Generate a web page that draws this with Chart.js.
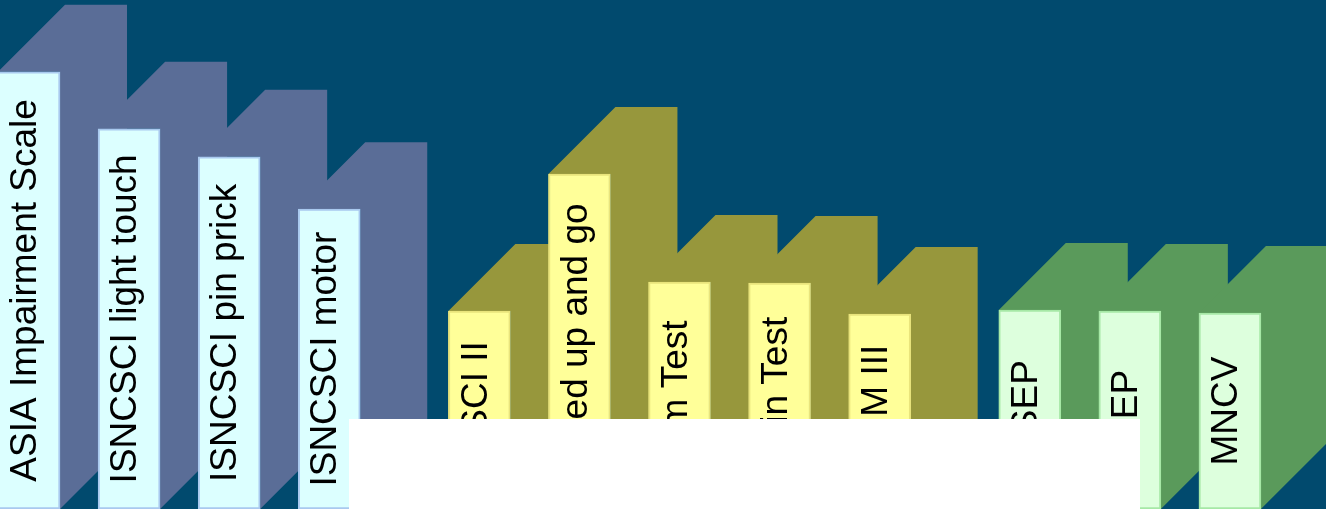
<!DOCTYPE html>
<html>
<head>
<meta charset="utf-8">
<script src="https://cdn.jsdelivr.net/npm/chart.js@4"></script>
<style>
  html, body { margin: 0; padding: 0; background: #014a6e; overflow: hidden; }
  #wrap { position: relative; width: 1326px; height: 509px; }
  #cover { position: absolute; left: 349px; top: 419px; width: 791px; height: 90px; background: #ffffff; }
</style>
</head>
<body>
<div id="wrap">
  <canvas id="chart"></canvas>
  <div id="cover"></div>
</div>
<script>
// labels, read bottom-to-top inside each bar
const labels = [
  'ASIA Impairment Scale', 'ISNCSCI light touch', 'ISNCSCI pin prick', 'ISNCSCI motor',
  'WISCI II', 'Timed up and go', '10m Test', '6min Test', 'SCIM III',
  'SSEP', 'MEP', 'MNCV'
];
// slot of each bar along x (groups separated by half a slot)
const slots = [0, 1, 2, 3, 4.5, 5.5, 6.5, 7.5, 8.5, 10, 11, 12];
// bar heights (% of plot height)
const values = [85.9, 74.7, 69.2, 58.9, 38.9, 65.8, 44.6, 44.4, 38.3, 39.1, 38.9, 38.5];
// group of each bar: 0 clinical exam, 1 function, 2 electrophysiology
const groups = [0, 0, 0, 0, 1, 1, 1, 1, 1, 2, 2, 2];

const frontColors = ['#dcffff', '#ffff99', '#ddffdd'];
const edgeColors = ['#a9c9ef', '#e9e47c', '#a6e8a6'];
const sideColors = ['#5a6d97', '#97973c', '#5a9a5b'];
const DEPTH = 67;

// draws the 3d side + top of every bar before the fronts, labels after
const extrude = {
  id: 'extrude',
  beforeDatasetsDraw(chart) {
    const ctx = chart.ctx;
    const meta = chart.getDatasetMeta(0);
    meta.data.forEach((bar, i) => {
      const p = bar.getProps(['x', 'y', 'base', 'width'], true);
      const l = p.x - p.width / 2, r = p.x + p.width / 2;
      ctx.save();
      ctx.fillStyle = sideColors[groups[i]];
      ctx.beginPath();
      ctx.moveTo(l, p.y);
      ctx.lineTo(l + DEPTH, p.y - DEPTH);
      ctx.lineTo(r + DEPTH, p.y - DEPTH);
      ctx.lineTo(r + DEPTH, p.base - DEPTH);
      ctx.lineTo(r, p.base);
      ctx.lineTo(r, p.y);
      ctx.closePath();
      ctx.fill();
      ctx.restore();
    });
  },
  afterDatasetsDraw(chart) {
    const ctx = chart.ctx;
    const meta = chart.getDatasetMeta(0);
    meta.data.forEach((bar, i) => {
      const p = bar.getProps(['x', 'y', 'base'], true);
      ctx.save();
      ctx.translate(p.x - 3, (p.y + p.base) / 2);
      ctx.rotate(-Math.PI / 2);
      ctx.font = '37px "Liberation Sans", Arial, sans-serif';
      ctx.fillStyle = '#000000';
      ctx.textAlign = 'center';
      ctx.textBaseline = 'middle';
      ctx.fillText(labels[i], 0, 0);
      ctx.restore();
    });
  }
};

new Chart(document.getElementById('chart'), {
  type: 'bar',
  data: {
    datasets: [{
      data: slots.map((s, i) => ({ x: s, y: values[i] })),
      backgroundColor: groups.map(g => frontColors[g]),
      borderColor: groups.map(g => edgeColors[g]),
      borderWidth: 2,
      borderSkipped: false,
      barThickness: 62
    }]
  },
  options: {
    responsive: true,
    maintainAspectRatio: false,
    animation: false,
    layout: { padding: 0 },
    plugins: { legend: { display: false }, tooltip: { enabled: false } },
    scales: {
      x: { type: 'linear', min: -0.29, max: 12.96, offset: false, display: false },
      y: { min: 0, max: 100, display: false }
    }
  },
  plugins: [extrude]
});
</script>
</body>
</html>
